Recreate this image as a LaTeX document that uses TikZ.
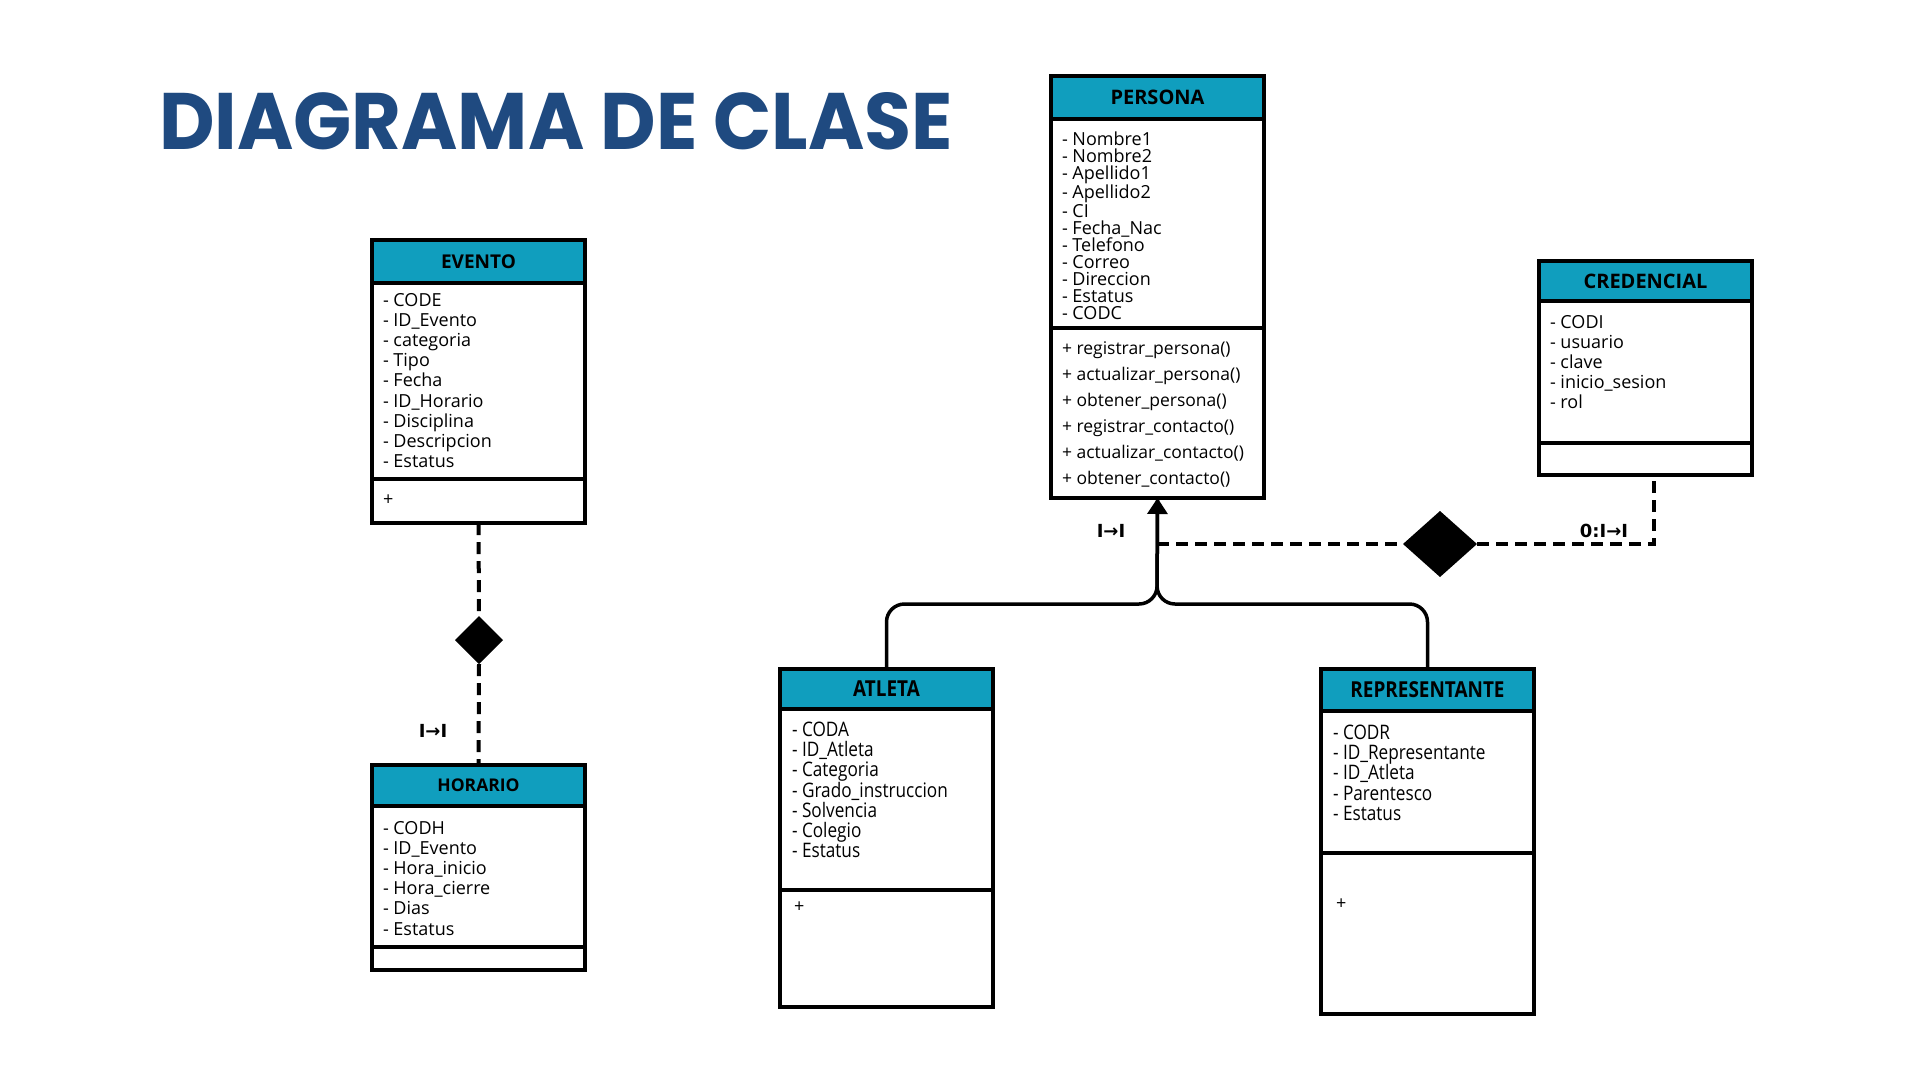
\documentclass[tikz,border=0pt]{standalone}
\usepackage{fontspec}
\setmainfont{Open Sans}
\newfontfamily\titlefont{Poppins}
\newfontfamily\condfont{Open Sans}[FakeStretch=0.86]
\newfontfamily\symfont{DejaVu Sans}
\usetikzlibrary{positioning,calc,shapes.geometric,arrows.meta}
\definecolor{titleblue}{HTML}{1F4A80}
\definecolor{headteal}{HTML}{109EBE}

\begin{document}
\begin{tikzpicture}[
    x=1pt, y=-1pt,
    every node/.style={inner sep=0pt, outer sep=0pt},
    head/.style={
        draw,
        line width=3.5pt,
        fill=headteal,
        minimum width=213pt,
        anchor=north west,
        font=\bfseries\fontsize{19}{20}\selectfont
    },
    part/.style={draw, line width=3.5pt, fill=white, minimum width=213pt, anchor=north west},
    attrs/.style={anchor=north west, align=left, font=\fontsize{18}{20.2}\selectfont},
    agg/.style={diamond, fill=black, minimum width=48pt, minimum height=48pt},
    dep/.style={line width=4pt, dash pattern=on 12pt off 7pt},
    inh/.style={line width=3.5pt, rounded corners=18pt},
    card/.style={font=\symfont\bfseries\fontsize{18}{18}\selectfont}
]
\fill[white] (0,0) rectangle (1920,1080);
\useasboundingbox (0,0) rectangle (1920,1080);

% title
\node[anchor=north west, text=titleblue] (title) at (159,92)
    {\resizebox{794pt}{57pt}{\titlefont\bfseries DIAGRAMA DE CLASE}};

% EVENTO
\node[head, minimum height=43pt] (eventoH) at (372,240) {EVENTO};
\node[part, minimum height=196pt] (eventoA) at (eventoH.south west) {};
\node[part, minimum height=44pt] (eventoM) at (eventoA.south west) {};
\node[attrs] (eventoT) at (383,293)
    {- CODE\\- ID\_Evento\\- categoria\\- Tipo\\- Fecha\\- ID\_Horario\\- Disciplina\\- Descripcion\\- Estatus};
\node[attrs, anchor=west] (eventoP) at (383,500) {+};

% HORARIO
\node[head, minimum height=41pt, font=\bfseries\fontsize{17.5}{20}\selectfont] (horarioH) at (372,765) {HORARIO};
\node[part, minimum height=141pt] (horarioA) at (horarioH.south west) {};
\node[part, minimum height=23pt] (horarioM) at (horarioA.south west) {};
\node[attrs] (horarioT) at (383,821)
    {- CODH\\- ID\_Evento\\- Hora\_inicio\\- Hora\_cierre\\- Dias\\- Estatus};

% PERSONA
\node[head, minimum height=43pt, font=\bfseries\fontsize{20}{20}\selectfont] (personaH) at (1051,76) {PERSONA};
\node[part, minimum height=209pt] (personaA) at (personaH.south west) {};
\node[part, minimum height=170pt] (personaM) at (personaA.south west) {};
\node[attrs, font=\fontsize{18}{17}\selectfont] (personaT) at (1062,132)
    {- Nombre1\\- Nombre2\\- Apellido1\\- Apellido2\\- CI\\- Fecha\_Nac\\- Telefono\\- Correo\\- Direccion\\- Estatus\\- CODC};
\node[attrs, font=\fontsize{17.5}{26}\selectfont] (personaF) at (1062,342)
    {+ registrar\_persona()\\+ actualizar\_persona()\\+ obtener\_persona()\\+ registrar\_contacto()\\+ actualizar\_contacto()\\+ obtener\_contacto()};

% CREDENCIAL
\node[head, minimum height=40pt, font=\bfseries\fontsize{20}{20}\selectfont] (credencialH) at (1539,261) {CREDENCIAL};
\node[part, minimum height=142pt] (credencialA) at (credencialH.south west) {};
\node[part, minimum height=32pt] (credencialM) at (credencialA.south west) {};
\node[attrs] (credencialT) at (1550,315)
    {- CODI\\- usuario\\- clave\\- inicio\_sesion\\- rol};

% ATLETA
\node[head, minimum height=40pt, font=\condfont\bfseries\fontsize{22}{22}\selectfont] (atletaH) at (780,669) {ATLETA};
\node[part, minimum height=181pt] (atletaA) at (atletaH.south west) {};
\node[part, minimum height=117pt] (atletaM) at (atletaA.south west) {};
\node[attrs, font=\condfont\fontsize{20}{20.2}\selectfont] (atletaT) at (792,722)
    {- CODA\\- ID\_Atleta\\- Categoria\\- Grado\_instruccion\\- Solvencia\\- Colegio\\- Estatus};
\node[attrs, anchor=west] (atletaP) at (794,907) {+};

% REPRESENTANTE
\node[head, minimum height=42pt, font=\condfont\bfseries\fontsize{22}{22}\selectfont] (reprH) at (1321,669) {REPRESENTANTE};
\node[part, minimum height=142pt] (reprA) at (reprH.south west) {};
\node[part, minimum height=161pt] (reprM) at (reprA.south west) {};
\node[attrs, font=\condfont\fontsize{20}{20.2}\selectfont] (reprT) at (1333,725)
    {- CODR\\- ID\_Representante\\- ID\_Atleta\\- Parentesco\\- Estatus};
\node[attrs, anchor=west] (reprP) at (1336,904) {+};

% herencia
\coordinate (hub) at (1157,604);
\draw[inh] (personaM.south) -- (hub) -| (reprH.north);
\draw[inh, -{Triangle[length=16pt, width=20pt]}] (atletaH.north) |- (hub) -- (personaM.south);

% evento - horario
\node[agg] (evDia) at (479,640) {};
\draw[dep] (eventoM.south) -- (evDia.north);
\draw[dep] (evDia.south) -- (horarioH.north);
\node[card] (evCard) at (433,731) {I→I};

% persona - credencial
\node[agg, minimum width=74pt, minimum height=66pt] (credDia) at (1440,544) {};
\coordinate (persJoin) at (1157,544);
\draw[dep] (persJoin) -- (credDia.west);
\draw[dep] (credDia.east) -| ([xshift=8pt]credencialM.south);
\node[card] (persCard) at (1111,531) {I→I};
\node[card] (credCard) at (1604,531) {0:I→I};
\end{tikzpicture}
\end{document}
